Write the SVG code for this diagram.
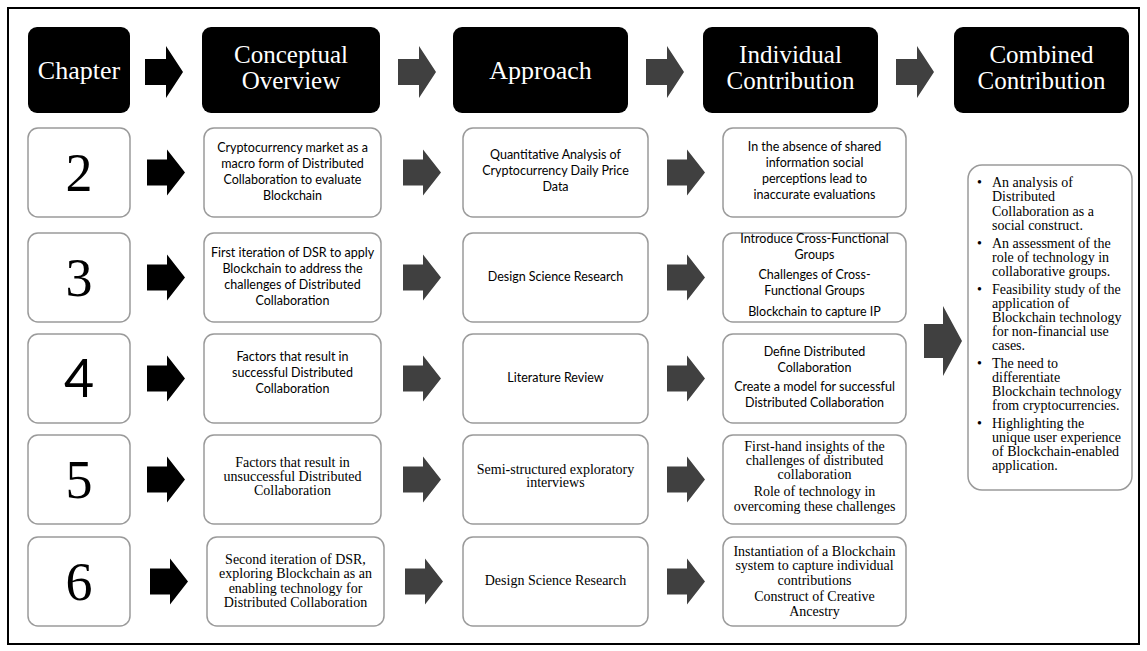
<svg xmlns="http://www.w3.org/2000/svg" width="1147" height="651" viewBox="0 0 1147 651">
  <defs>
    <style>
      .frame { fill: #fff; stroke: #000; stroke-width: 2; }
      .hdr { fill: #000; }
      .htxt { font-family: "Liberation Serif", "Times New Roman", serif; font-size: 25px; fill: #fff; text-anchor: middle; }
      .box { fill: #fff; stroke: #9a9a9a; stroke-width: 1.5; }
      .num { font-family: "Liberation Serif", "Times New Roman", serif; font-size: 54px; text-anchor: middle; fill: #000; }
      .numsans { font-family: Lato, "Liberation Sans", sans-serif; font-size: 52px; text-anchor: middle; fill: #000; }
      .cal { font-family: Lato, "Liberation Sans", sans-serif; font-size: 12.5px; text-anchor: middle; fill: #000; }
      .tim { font-family: "Liberation Serif", "Times New Roman", serif; font-size: 14px; text-anchor: middle; fill: #000; }
      .tim6 { font-family: "Liberation Serif", "Times New Roman", serif; font-size: 14px; text-anchor: middle; fill: #000; }
      .list { font-family: "Liberation Serif", "Times New Roman", serif; font-size: 14px; fill: #000; }
      .ak { fill: #000; }
      .ag { fill: #404040; }
    </style>
    <!-- block arrows, drawn from the left edge, vertical centre at half height -->
    <path id="arrowRow" d="M0,10 H20 V0 L38,23 L20,46 V36 H0 Z"/>
    <path id="arrowHead" d="M0,13 H21 V0 L38,26 L21,52 V39 H0 Z"/>
    <path id="arrowBig" d="M0,18 H19 V0 L38,35 L19,70 V52 H0 Z"/>
  </defs>

  <rect class="frame" x="8" y="8" width="1131" height="636"/>

  <!-- header row -->
  <g id="hdr-chapter">
    <rect class="hdr" x="28" y="27" width="102" height="86" rx="9"/>
    <text class="htxt" x="79" y="79" style="font-size:26px">Chapter</text>
  </g>
  <g id="hdr-conceptual">
    <rect class="hdr" x="202" y="27" width="178" height="86" rx="9"/>
    <text class="htxt" x="291" y="63">Conceptual</text>
    <text class="htxt" x="291" y="89">Overview</text>
  </g>
  <g id="hdr-approach">
    <rect class="hdr" x="453" y="27" width="175" height="86" rx="9"/>
    <text class="htxt" x="540.5" y="79" style="font-size:26px">Approach</text>
  </g>
  <g id="hdr-individual">
    <rect class="hdr" x="703" y="27" width="175" height="86" rx="9"/>
    <text class="htxt" x="790.5" y="63">Individual</text>
    <text class="htxt" x="790.5" y="89">Contribution</text>
  </g>
  <g id="hdr-combined">
    <rect class="hdr" x="954" y="27" width="175" height="86" rx="9"/>
    <text class="htxt" x="1041.5" y="63">Combined</text>
    <text class="htxt" x="1041.5" y="89">Contribution</text>
  </g>

  <!-- row: chapter 2 -->
  <g id="ch2-num">
    <rect class="box" x="28" y="128" width="102" height="89" rx="10"/>
    <text class="num" x="79" y="191">2</text>
  </g>
  <g id="ch2-concept">
    <rect class="box" x="204" y="128" width="177" height="89" rx="10"/>
    <text class="cal" x="292.5" y="152">Cryptocurrency market as a</text>
    <text class="cal" x="292.5" y="168">macro form of Distributed</text>
    <text class="cal" x="292.5" y="184">Collaboration to evaluate</text>
    <text class="cal" x="292.5" y="200">Blockchain</text>
  </g>
  <g id="ch2-approach">
    <rect class="box" x="463" y="128" width="185" height="89" rx="10"/>
    <text class="cal" x="555.5" y="159">Quantitative Analysis of</text>
    <text class="cal" x="555.5" y="175">Cryptocurrency Daily Price</text>
    <text class="cal" x="555.5" y="191">Data</text>
  </g>
  <g id="ch2-contribution">
    <rect class="box" x="723" y="128" width="183" height="89" rx="10"/>
    <text class="cal" x="814.5" y="151">In the absence of shared</text>
    <text class="cal" x="814.5" y="167">information social</text>
    <text class="cal" x="814.5" y="183">perceptions lead to</text>
    <text class="cal" x="814.5" y="199">inaccurate evaluations</text>
  </g>

  <!-- row: chapter 3 -->
  <g id="ch3-num">
    <rect class="box" x="28" y="233" width="102" height="89" rx="10"/>
    <text class="num" x="79" y="296">3</text>
  </g>
  <g id="ch3-concept">
    <rect class="box" x="204" y="233" width="177" height="89" rx="10"/>
    <text class="cal" x="292.5" y="257">First iteration of DSR to apply</text>
    <text class="cal" x="292.5" y="273">Blockchain to address the</text>
    <text class="cal" x="292.5" y="289">challenges of Distributed</text>
    <text class="cal" x="292.5" y="305">Collaboration</text>
  </g>
  <g id="ch3-approach">
    <rect class="box" x="463" y="233" width="185" height="89" rx="10"/>
    <text class="cal" x="555.5" y="281">Design Science Research</text>
  </g>
  <g id="ch3-contribution">
    <rect class="box" x="723" y="233" width="183" height="89" rx="10"/>
    <text class="cal" x="814.5" y="243">Introduce Cross-Functional</text>
    <text class="cal" x="814.5" y="259">Groups</text>
    <text class="cal" x="814.5" y="279">Challenges of Cross-</text>
    <text class="cal" x="814.5" y="295">Functional Groups</text>
    <text class="cal" x="814.5" y="316">Blockchain to capture IP</text>
  </g>

  <!-- row: chapter 4 -->
  <g id="ch4-num">
    <rect class="box" x="28" y="334" width="102" height="89" rx="10"/>
    <text class="numsans" x="79" y="397">4</text>
  </g>
  <g id="ch4-concept">
    <rect class="box" x="204" y="334" width="177" height="89" rx="10"/>
    <text class="cal" x="292.5" y="361">Factors that result in</text>
    <text class="cal" x="292.5" y="377">successful Distributed</text>
    <text class="cal" x="292.5" y="393">Collaboration</text>
  </g>
  <g id="ch4-approach">
    <rect class="box" x="463" y="334" width="185" height="89" rx="10"/>
    <text class="cal" x="555.5" y="382">Literature Review</text>
  </g>
  <g id="ch4-contribution">
    <rect class="box" x="723" y="334" width="183" height="89" rx="10"/>
    <text class="cal" x="814.5" y="356">Define Distributed</text>
    <text class="cal" x="814.5" y="372">Collaboration</text>
    <text class="cal" x="814.5" y="391">Create a model for successful</text>
    <text class="cal" x="814.5" y="407">Distributed Collaboration</text>
  </g>

  <!-- row: chapter 5 -->
  <g id="ch5-num">
    <rect class="box" x="28" y="435" width="102" height="89" rx="10"/>
    <text class="num" x="79" y="498">5</text>
  </g>
  <g id="ch5-concept">
    <rect class="box" x="204" y="435" width="177" height="89" rx="10"/>
    <text class="tim" x="292.5" y="467">Factors that result in</text>
    <text class="tim" x="292.5" y="481">unsuccessful Distributed</text>
    <text class="tim" x="292.5" y="495">Collaboration</text>
  </g>
  <g id="ch5-approach">
    <rect class="box" x="463" y="435" width="185" height="89" rx="10"/>
    <text class="tim" x="555.5" y="474">Semi-structured exploratory</text>
    <text class="tim" x="555.5" y="487">interviews</text>
  </g>
  <g id="ch5-contribution">
    <rect class="box" x="723" y="435" width="183" height="89" rx="10"/>
    <text class="tim" x="814.5" y="451">First-hand insights of the</text>
    <text class="tim" x="814.5" y="465">challenges of distributed</text>
    <text class="tim" x="814.5" y="479">collaboration</text>
    <text class="tim" x="814.5" y="496">Role of technology in</text>
    <text class="tim" x="814.5" y="511">overcoming these challenges</text>
  </g>

  <!-- row: chapter 6 -->
  <g id="ch6-num">
    <rect class="box" x="28" y="537" width="102" height="89" rx="10"/>
    <text class="num" x="79" y="600">6</text>
  </g>
  <g id="ch6-concept">
    <rect class="box" x="207" y="537" width="177" height="89" rx="10"/>
    <text class="tim6" x="295.5" y="564">Second iteration of DSR,</text>
    <text class="tim6" x="295.5" y="578">exploring Blockchain as an</text>
    <text class="tim6" x="295.5" y="593">enabling technology for</text>
    <text class="tim6" x="295.5" y="607">Distributed Collaboration</text>
  </g>
  <g id="ch6-approach">
    <rect class="box" x="463" y="537" width="185" height="89" rx="10"/>
    <text class="tim6" x="555.5" y="585">Design Science Research</text>
  </g>
  <g id="ch6-contribution">
    <rect class="box" x="723" y="537" width="183" height="89" rx="10"/>
    <text class="tim6" x="814.5" y="556">Instantiation of a Blockchain</text>
    <text class="tim6" x="814.5" y="570">system to capture individual</text>
    <text class="tim6" x="814.5" y="585">contributions</text>
    <text class="tim6" x="814.5" y="601">Construct of Creative</text>
    <text class="tim6" x="814.5" y="616">Ancestry</text>
  </g>

  <!-- combined contribution summary -->
  <g id="combined">
    <rect class="box" x="968" y="165" width="164" height="325" rx="14"/>
    <g class="list">
      <text x="977" y="187">•</text>
      <text x="992" y="187">An analysis of</text>
      <text x="992" y="201">Distributed</text>
      <text x="992" y="216">Collaboration as a</text>
      <text x="992" y="230">social construct.</text>
      <text x="977" y="248">•</text>
      <text x="992" y="248">An assessment of the</text>
      <text x="992" y="262">role of technology in</text>
      <text x="992" y="276">collaborative groups.</text>
      <text x="977" y="294">•</text>
      <text x="992" y="294">Feasibility study of the</text>
      <text x="992" y="308">application of</text>
      <text x="992" y="322">Blockchain technology</text>
      <text x="992" y="336">for non-financial use</text>
      <text x="992" y="350">cases.</text>
      <text x="977" y="368">•</text>
      <text x="992" y="368">The need to</text>
      <text x="992" y="382">differentiate</text>
      <text x="992" y="396">Blockchain technology</text>
      <text x="992" y="410">from cryptocurrencies.</text>
      <text x="977" y="428">•</text>
      <text x="992" y="428">Highlighting the</text>
      <text x="992" y="442">unique user experience</text>
      <text x="992" y="456">of Blockchain-enabled</text>
      <text x="992" y="470">application.</text>
    </g>
  </g>

  <!-- connectors -->
  <g id="connectors">
    <use href="#arrowHead" class="ak" x="145" y="46"/>
    <use href="#arrowHead" class="ag" x="398" y="46"/>
    <use href="#arrowHead" class="ag" x="646" y="46"/>
    <use href="#arrowHead" class="ag" x="896" y="46"/>

    <use href="#arrowRow" class="ak" x="147" y="149.5"/>
    <use href="#arrowRow" class="ag" x="403" y="149.5"/>
    <use href="#arrowRow" class="ag" x="667" y="149.5"/>

    <use href="#arrowRow" class="ak" x="147" y="254.5"/>
    <use href="#arrowRow" class="ag" x="403" y="254.5"/>
    <use href="#arrowRow" class="ag" x="667" y="254.5"/>

    <use href="#arrowRow" class="ak" x="147" y="355.5"/>
    <use href="#arrowRow" class="ag" x="403" y="355.5"/>
    <use href="#arrowRow" class="ag" x="667" y="355.5"/>

    <use href="#arrowRow" class="ak" x="147" y="456.5"/>
    <use href="#arrowRow" class="ag" x="403" y="456.5"/>
    <use href="#arrowRow" class="ag" x="667" y="456.5"/>

    <use href="#arrowRow" class="ak" x="150" y="558.5"/>
    <use href="#arrowRow" class="ag" x="405" y="558.5"/>
    <use href="#arrowRow" class="ag" x="667" y="558.5"/>

    <use href="#arrowBig" class="ag" x="924" y="306"/>
  </g>
</svg>
